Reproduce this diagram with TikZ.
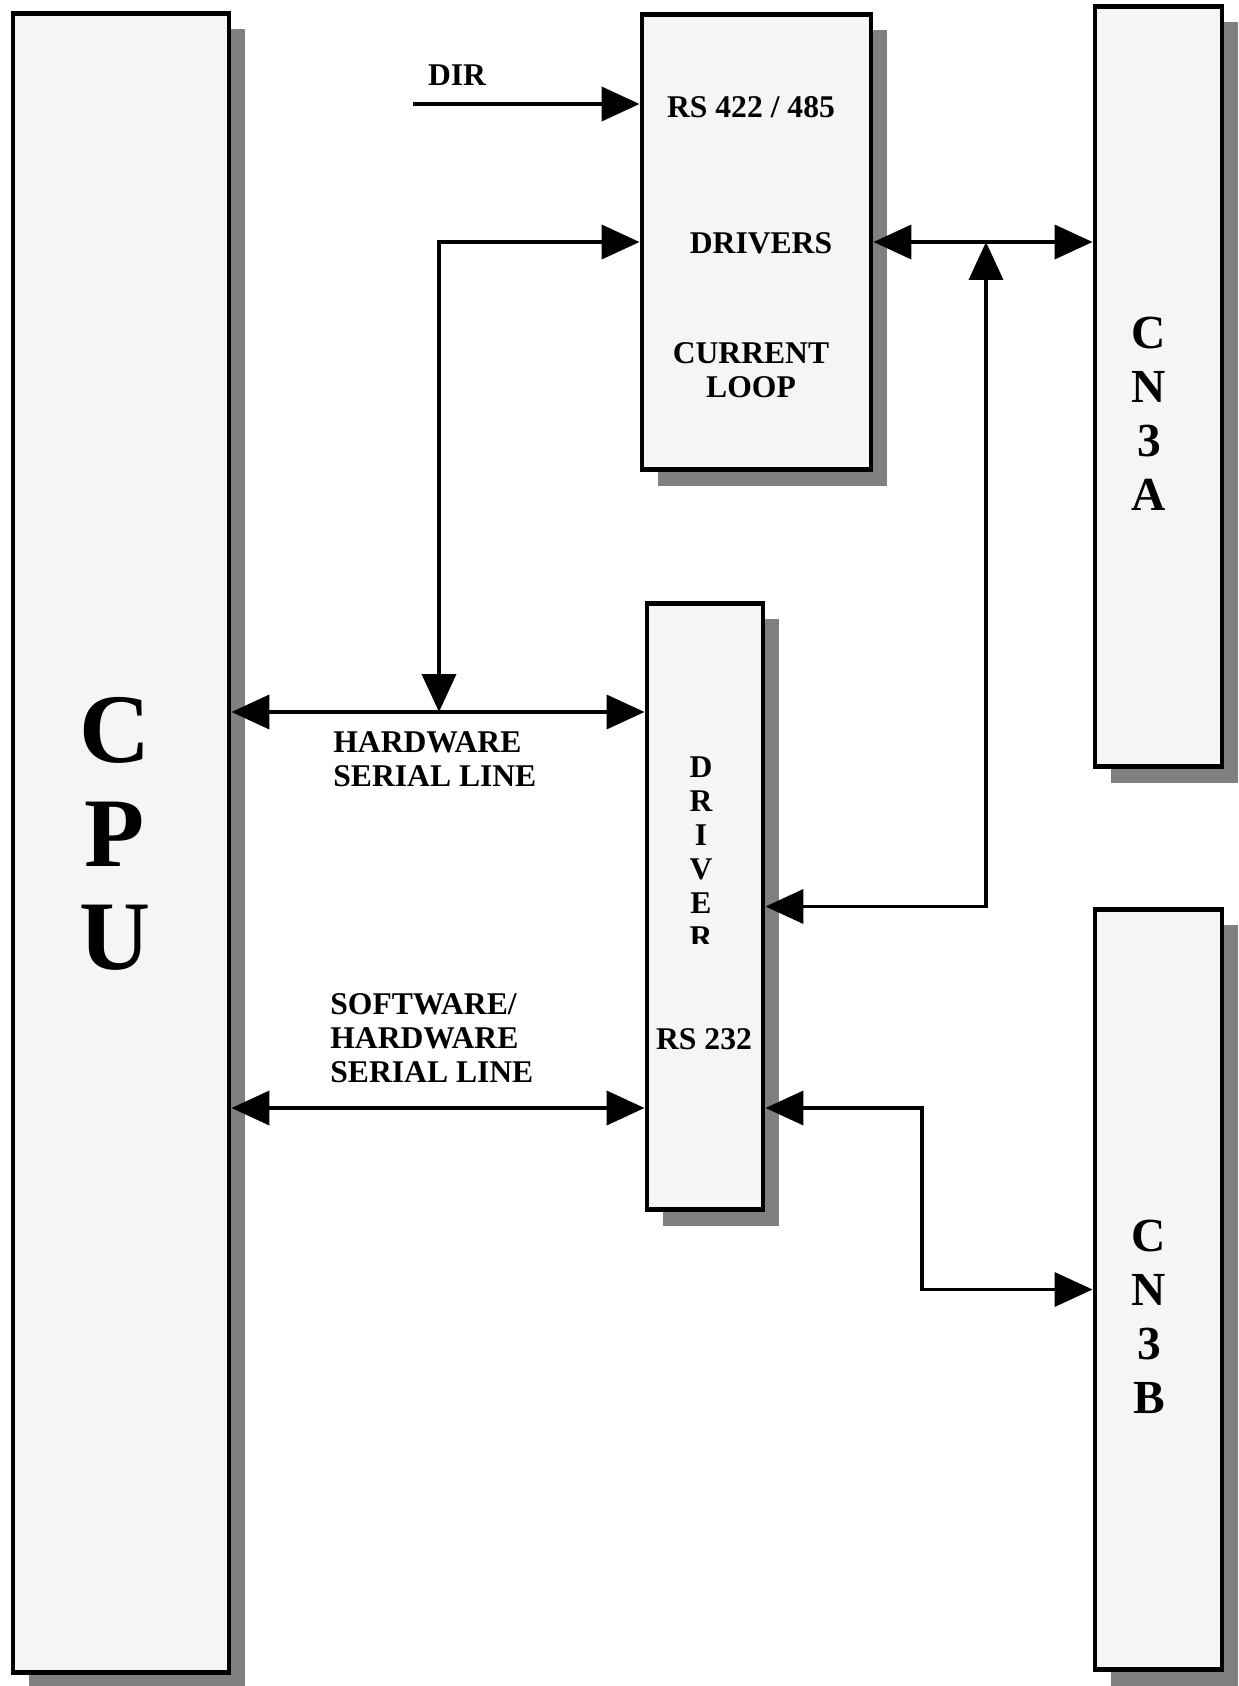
\documentclass[tikz,border=0pt]{standalone}
\usepackage{fontspec}
\setmainfont{Liberation Serif}
\usetikzlibrary{arrows.meta,shadows}
\definecolor{boxfill}{HTML}{F5F5F5}
\definecolor{shadowgray}{HTML}{808080}

\begin{document}
\begin{tikzpicture}[x=0.02cm, y=-0.02cm,
  unit/.style={draw, line width=2.8pt, fill=boxfill, inner sep=0pt,
    drop shadow={shadow xshift=0.32cm, shadow yshift=-0.32cm, fill=shadowgray, opacity=1}},
  lbl/.style={font=\fontsize{18}{19.5}\selectfont\bfseries, inner sep=0pt},
  big/.style={font=\fontsize{27}{30.7}\selectfont\bfseries, inner sep=0pt, align=center},
  link/.style={line width=2.2pt, -{Triangle[length=0.76cm,width=0.68cm]}},
  dbl/.style={line width=2.2pt, {Triangle[length=0.76cm,width=0.68cm]}-{Triangle[length=0.76cm,width=0.68cm]}}]
\useasboundingbox (0,0) rectangle (1239,1686);

% === Boxes ===
\node[unit, minimum width=4.32cm, minimum height=33.2cm] (cpu) at (121,843) {};
\node[unit, minimum width=4.58cm, minimum height=9.12cm] (rs) at (756.5,242) {};
\node[unit, minimum width=2.32cm, minimum height=12.14cm] (drv) at (705,906.5) {};
\node[unit, minimum width=2.54cm, minimum height=15.22cm] (cna) at (1158.5,386.5) {};
\node[unit, minimum width=2.54cm, minimum height=15.22cm] (cnb) at (1158.5,1289.5) {};

% === Box texts ===
\node[font=\fontsize{56}{59}\selectfont\bfseries, inner sep=0pt, align=center] (cpulbl) at (115,834) {C\\P\\U};
\node[big] (cnalbl) at (1149,414) {C\\N\\3\\A};
\node[big] (cnblbl) at (1149,1316.5) {C\\N\\3\\B};
\node[lbl] (rslbl) at (751,107) {RS 422 / 485};
\node[lbl] (drvslbl) at (761,243) {DRIVERS};
\node[lbl, align=center] (cllbl) at (751,370) {CURRENT\\LOOP};
\begin{scope}
  \clip (650,600) rectangle (760,943);
  \node[lbl, align=center, font=\fontsize{18}{19.3}\selectfont\bfseries] (drvlbl) at (701,852) {D\\R\\I\\V\\E\\R};
\end{scope}
\node[lbl] (rs232lbl) at (704,1039) {RS 232};
\node[lbl] (dirlbl) at (457,75) {DIR};
\node[lbl, align=left, anchor=west] (hwlbl) at (333,759.5) {HARDWARE\\SERIAL LINE};
\node[lbl, align=left, anchor=west] (swlbl) at (330,1038) {SOFTWARE/\\HARDWARE\\SERIAL LINE};

% === Connectors ===
\coordinate (dirin) at (413,104);
\coordinate (tap) at (439,712);
\coordinate (swl) at (420,1108);
\coordinate (jn) at (986,242);
\coordinate (bend) at (922,1108);
\draw[link] (dirin) -- (dirin -| rs.west);
\draw[dbl] (tap) |- (rs.west);
\draw[dbl] (cpu.east |- tap) -- (tap -| drv.west);
\draw[dbl] (cpu.east |- swl) -- (swl -| drv.west);
\draw[dbl] (rs.east) -- (rs.east -| cna.west);
\draw[dbl] (drv.east) -| (jn);
\draw[dbl] (drv.east |- bend) -- (bend) |- (cnb.west);
\end{tikzpicture}
\end{document}
